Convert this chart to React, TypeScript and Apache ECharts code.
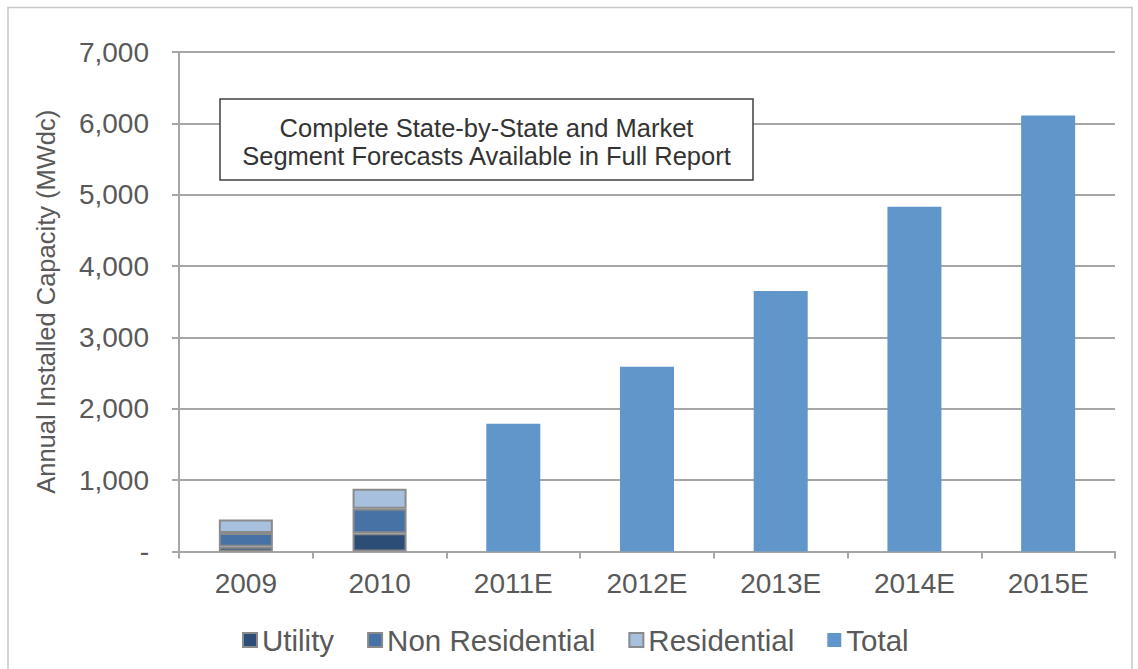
import React, { useEffect, useRef } from "react";
import * as echarts from "echarts";

const categories = ["2009", "2010", "2011E", "2012E", "2013E", "2014E", "2015E"];
const utility = [65, 255, "-", "-", "-", "-", "-"];
const nonResidential = [195, 345, "-", "-", "-", "-", "-"];
const residential = [190, 280, "-", "-", "-", "-", "-"];
const total = ["-", "-", 1790, 2590, 3650, 4830, 6110];
const yTicks = { min: 0, max: 7000, interval: 1000 };
const noteLines = ["Complete State-by-State and Market", "Segment Forecasts Available in Full Report"];

const FONT = "'Liberation Sans', Arial, Helvetica, sans-serif";
const TXT = "#595959";
const GRID = "#a6a6a6";

export default function App() {
  const ref = useRef<HTMLDivElement>(null);
  useEffect(() => {
    if (!ref.current) return;
    const chart = echarts.init(ref.current, null, { renderer: "svg" });
    const stackedStyle = { borderColor: "#8a8a8a", borderWidth: 2 };
    chart.setOption({
      animation: false,
      backgroundColor: "#ffffff",
      textStyle: { fontFamily: FONT },
      grid: { left: 179, right: 23, top: 52, bottom: 117.5, containLabel: false },
      legend: {
        left: 242,
        top: 625,
        padding: 0,
        itemWidth: 14,
        itemHeight: 14,
        itemGap: 33,
        icon: "rect",
        textStyle: { fontSize: 29.5, color: TXT, fontFamily: FONT },
        data: ["Utility", "Non Residential", "Residential", "Total"],
      },
      xAxis: {
        type: "category",
        data: categories,
        axisLine: { lineStyle: { color: GRID, width: 2 } },
        axisTick: { show: true, length: 7, lineStyle: { color: GRID, width: 2 } },
        axisLabel: { fontSize: 28, color: TXT, margin: 18, fontFamily: FONT },
      },
      yAxis: {
        type: "value",
        min: yTicks.min,
        max: yTicks.max,
        interval: yTicks.interval,
        name: "Annual Installed Capacity (MWdc)",
        nameLocation: "middle",
        nameGap: 120,
        nameTextStyle: { fontSize: 25.5, color: TXT, fontFamily: FONT },
        axisLine: { show: true, lineStyle: { color: GRID, width: 2 } },
        axisTick: { show: true, length: 7, lineStyle: { color: GRID, width: 2 } },
        splitLine: { lineStyle: { color: GRID, width: 2 } },
        axisLabel: {
          fontSize: 28,
          color: TXT,
          margin: 30,
          fontFamily: FONT,
          formatter: (v: number) => (v === 0 ? "-" : v.toLocaleString("en-US")),
        },
      },
      series: [
        { name: "Utility", type: "bar", stack: "s", barWidth: 54, data: utility, itemStyle: { color: "#2c4d75", ...stackedStyle } },
        { name: "Non Residential", type: "bar", stack: "s", barWidth: 54, data: nonResidential, itemStyle: { color: "#4672a6", ...stackedStyle } },
        { name: "Residential", type: "bar", stack: "s", barWidth: 54, data: residential, itemStyle: { color: "#a7c0de", ...stackedStyle } },
        { name: "Total", type: "bar", stack: "s", barWidth: 54, data: total, itemStyle: { color: "#6096c9" } },
      ],
      graphic: [
        {
          type: "rect",
          z: 0,
          silent: true,
          shape: { x: 8, y: 7.5, width: 1124, height: 700 },
          style: { fill: "none", stroke: "#c8c8c8", lineWidth: 1.5 },
        },
        {
          type: "rect",
          z: 100,
          shape: { x: 220, y: 99, width: 533, height: 81 },
          style: { fill: "#ffffff", stroke: "#404040", lineWidth: 1.5 },
        },
        {
          type: "text",
          z: 101,
          x: 486.5,
          y: 142,
          style: {
            text: noteLines.join("\n"),
            fontSize: 25.5,
            lineHeight: 28,
            fill: "#333333",
            fontFamily: FONT,
            align: "center",
            verticalAlign: "middle",
          },
        },
      ],
    });
    return () => chart.dispose();
  }, []);
  return <div ref={ref} style={{ position: "absolute", left: 0, top: 0, width: 1138, height: 669 }} />;
}
